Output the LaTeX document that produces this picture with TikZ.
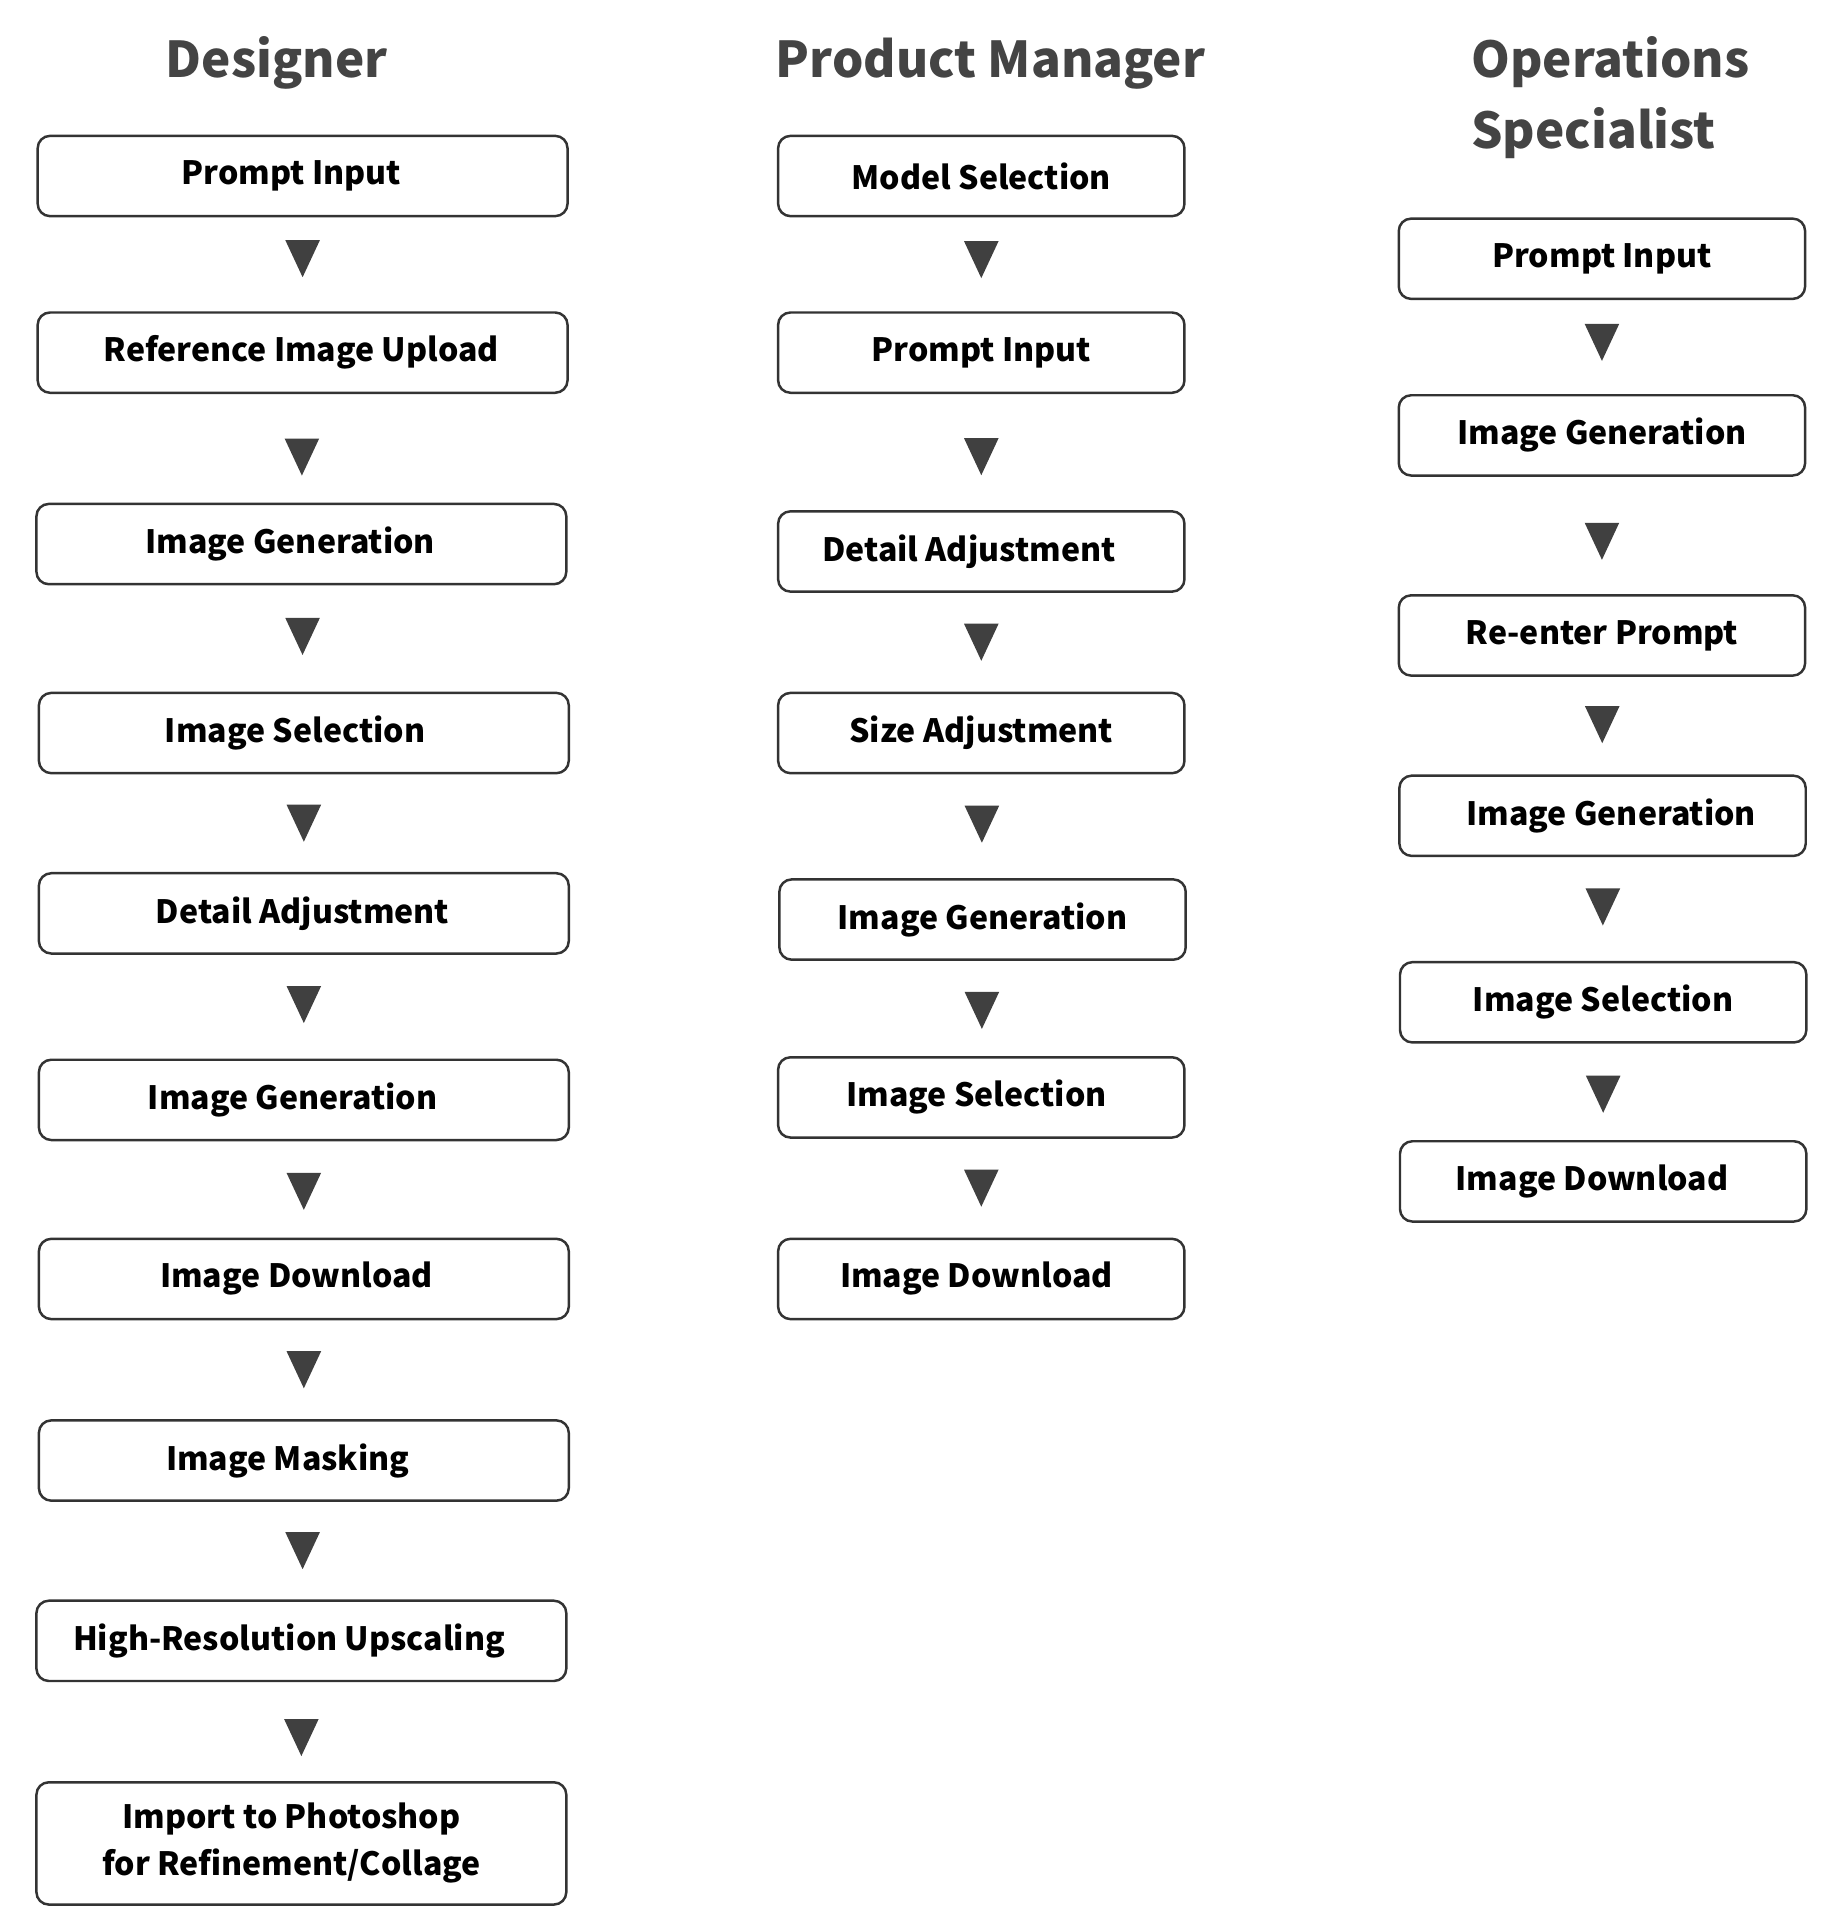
\documentclass[tikz,border=0pt]{standalone}
\usepackage{fontspec}
\setmainfont{Noto Sans CJK SC}
\newcommand{\sft}[2]{\hspace*{#1pt}#2\hspace*{-#1pt}}
\begin{document}
\begin{tikzpicture}[x=1pt,y=-1pt,
  box/.style={draw=boxc, line width=2pt, rounded corners=10pt, fill=white,
    minimum height=65pt, inner sep=0pt, font=\fontsize{26}{38}\selectfont\bfseries, text=black, align=center},
  dbox/.style={box, minimum width=429pt},
  pbox/.style={box, minimum width=329pt},
  title/.style={font=\fontsize{40}{57}\selectfont\bfseries, text=titlec, inner sep=0pt},
  downtri/.pic={\fill[arrowc] (-14,-15) -- (14,-15) -- (0,15) -- cycle;}
]
\definecolor{boxc}{HTML}{333333}
\definecolor{arrowc}{HTML}{404040}
\definecolor{titlec}{HTML}{444444}
\useasboundingbox (0,0) rectangle (1474,1561);
\fill[white] (0,0) rectangle (1474,1561);

% titles
\node[title, anchor=base] (tD) at (224,63) {Designer};
\node[title, anchor=base] (tP) at (802,63) {Product Manager};
\node[title, anchor=base west] (tO1) at (1191,63) {Operations};
\node[title, anchor=base west] (tO2) at (1191,120) {Specialist};

% Designer column
\node[dbox] (d1) at (245,142.5) {\sft{-9}{Prompt Input}};
\node[dbox] (d2) at (245,285.5) {\sft{-1}{Reference Image Upload}};
\node[dbox] (d3) at (244,440.5) {\sft{-9}{Image Generation}};
\node[dbox] (d4) at (246,593.5) {\sft{-7}{Image Selection}};
\node[dbox] (d5) at (246,739.5) {\sft{-1}{Detail Adjustment}};
\node[dbox] (d6) at (246,890.5) {\sft{-9}{Image Generation}};
\node[dbox] (d7) at (246,1035.5) {\sft{-6}{Image Download}};
\node[dbox] (d8) at (246,1182.5) {\sft{-13}{Image Masking}};
\node[dbox] (d9) at (244,1328.5) {\sft{-10}{High-Resolution Upscaling}};
\node[dbox, minimum height=99pt] (d10) at (244,1492.5) {\sft{-8}{Import to Photoshop}\\\sft{-8}{for Refinement/Collage}};

% Product Manager column
\node[pbox] (p1) at (794.5,142.5) {Model Selection};
\node[pbox] (p2) at (794.5,285.5) {Prompt Input};
\node[pbox] (p3) at (794.5,446.5) {\sft{-10}{Detail Adjustment}};
\node[pbox] (p4) at (794.5,593.5) {Size Adjustment};
\node[pbox] (p5) at (795.5,744.5) {Image Generation};
\node[pbox] (p6) at (794.5,888.5) {\sft{-4}{Image Selection}};
\node[pbox] (p7) at (794.5,1035.5) {\sft{-4}{Image Download}};

% Operations Specialist column
\node[pbox] (o1) at (1297,209.5) {Prompt Input};
\node[pbox] (o2) at (1297,352.5) {Image Generation};
\node[pbox] (o3) at (1297,514.5) {Re-enter Prompt};
\node[pbox] (o4) at (1297.5,660.5) {\sft{7}{Image Generation}};
\node[pbox] (o5) at (1298,811.5) {Image Selection};
\node[pbox] (o6) at (1298,956.5) {\sft{-9}{Image Download}};

% connectors (downward triangles)
\foreach \a/\b/\p in {d1/d2/0.44,d2/d3/0.58,d3/d4/0.48,d4/d5/0.5,d5/d6/0.48,
                      d6/d7/0.52,d7/d8/0.5,d8/d9/0.5,d9/d10/0.56,
                      p1/p2/0.45,p2/p3/0.54,p3/p4/0.5,p4/p5/0.48,p5/p6/0.52,p6/p7/0.5,
                      o1/o2/0.45,o2/o3/0.55,o3/o4/0.49,o4/o5/0.48,o5/o6/0.525}{
  \path (\a.south) -- coordinate[pos=\p] (m-\a) (\b.north);
  \pic at (m-\a) {downtri};
}
\end{tikzpicture}
\end{document}
